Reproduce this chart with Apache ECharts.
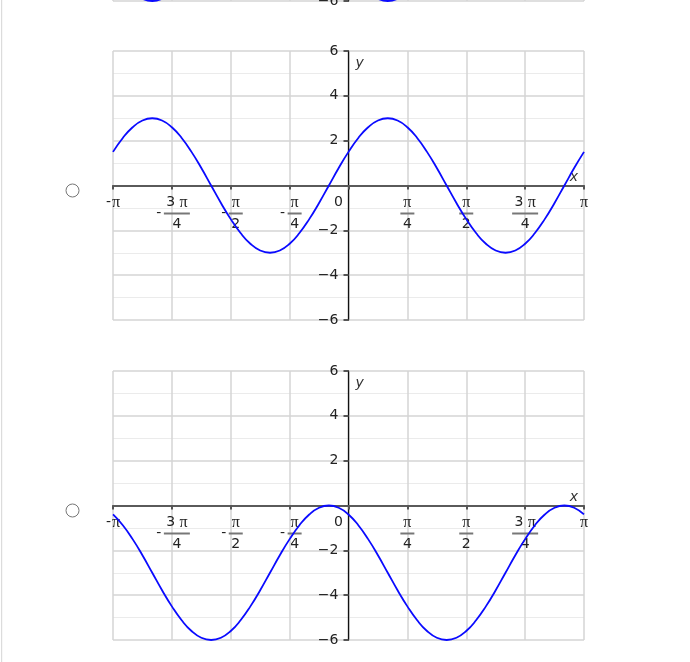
<!DOCTYPE html>
<html>
<head>
<meta charset="utf-8">
<script src="https://cdn.jsdelivr.net/npm/echarts@6/dist/echarts.min.js"></script>
<style>
  html, body { margin: 0; padding: 0; background: #fff; }
  #chart { width: 690px; height: 662px; }
</style>
</head>
<body>
<div id="chart"></div>
<script>
// x positions in steps of pi/24, from -pi to pi
var xSteps = [-24, -23, -22, -21, -20, -19, -18, -17, -16, -15, -14, -13, -12, -11, -10, -9, -8, -7, -6, -5, -4, -3, -2, -1, 0,
  1, 2, 3, 4, 5, 6, 7, 8, 9, 10, 11, 12, 13, 14, 15, 16, 17, 18, 19, 20, 21, 22, 23, 24];

// graph cut off at the top of the page
var curveTop = [-4.5, -5.12, -5.6, -5.9, -6, -5.9, -5.6, -5.12, -4.5, -3.78, -3, -2.22, -1.5, -0.88, -0.4, -0.1, 0,
  -0.1, -0.4, -0.88, -1.5, -2.22, -3, -3.78, -4.5, -5.12, -5.6, -5.9, -6, -5.9, -5.6, -5.12, -4.5, -3.78, -3, -2.22,
  -1.5, -0.88, -0.4, -0.1, 0, -0.1, -0.4, -0.88, -1.5, -2.22, -3, -3.78, -4.5];

// first full graph
var curveMid = [1.5, 2.12, 2.6, 2.9, 3, 2.9, 2.6, 2.12, 1.5, 0.78, 0, -0.78, -1.5, -2.12, -2.6, -2.9, -3,
  -2.9, -2.6, -2.12, -1.5, -0.78, 0, 0.78, 1.5, 2.12, 2.6, 2.9, 3, 2.9, 2.6, 2.12, 1.5, 0.78, 0, -0.78,
  -1.5, -2.12, -2.6, -2.9, -3, -2.9, -2.6, -2.12, -1.5, -0.78, 0, 0.78, 1.5];

// second full graph
var curveLow = [-0.4, -0.88, -1.5, -2.22, -3, -3.78, -4.5, -5.12, -5.6, -5.9, -6, -5.9, -5.6, -5.12, -4.5, -3.78, -3,
  -2.22, -1.5, -0.88, -0.4, -0.1, 0, -0.1, -0.4, -0.88, -1.5, -2.22, -3, -3.78, -4.5, -5.12, -5.6, -5.9, -6, -5.9,
  -5.6, -5.12, -4.5, -3.78, -3, -2.22, -1.5, -0.88, -0.4, -0.1, 0, -0.1, -0.4];

// x tick labels: numerator, denominator, negative sign
var xTickNum = ['π', '3π', 'π', 'π', '0', 'π', 'π', '3π', 'π'];
var xTickDen = ['', '4', '2', '4', '', '4', '2', '4', ''];
var xTickNeg = [true, true, true, true, false, false, false, false, false];

var curves = [curveTop, curveMid, curveLow];
var gridTops = [-268, 51, 371];
var gridW = 471, gridH = 269;

var dom = document.getElementById("chart");
var myChart = echarts.init(dom, null, {renderer: 'canvas'});
var option;

var txt = '#222';

function xLabel(v) {
    var i = Math.round(v / 6) + 4;
    var num = xTickNum[i], den = xTickDen[i], neg = xTickNeg[i];
    if (!den) {
        if (num === '0') return '{zero|0}';
        return (neg ? '{neg1|-}' : '') + '{pi|π}';
    }
    var top = num === '3π' ? '{d|3 }{pi|π}' : '{pi|π}';
    var bar = num === '3π' ? 'barW' : 'bar';
    if (neg) {
        return '{gap| }' + top + '\n{neg|-}{' + bar + '| }\n{gap| }{d|' + den + '}';
    }
    return top + '\n{' + bar + '| }\n{d|' + den + '}';
}

var richX = {
    d: {fontFamily: 'DejaVu Sans', fontSize: 14, color: txt, lineHeight: 16},
    pi: {fontFamily: 'Liberation Serif', fontSize: 16, color: txt, lineHeight: 16},
    gap: {width: 10, lineHeight: 16},
    neg: {width: 10, fontFamily: 'DejaVu Sans', fontSize: 14, color: txt, lineHeight: 6},
    neg1: {fontFamily: 'DejaVu Sans', fontSize: 14, color: txt, lineHeight: 16, padding: [0, 1, 0, 0]},
    bar: {width: 14, height: 2, lineHeight: 6, backgroundColor: '#777'},
    barW: {width: 26, height: 2, lineHeight: 6, backgroundColor: '#777'},
    zero: {fontFamily: 'DejaVu Sans', fontSize: 14, color: txt, lineHeight: 16, padding: [0, 20, 0, 0]}
};

var grids = [], xAxes = [], yAxes = [], series = [];
for (var g = 0; g < 3; g++) {
    grids.push({left: 113, width: gridW, top: gridTops[g], height: gridH, outerBoundsMode: 'none'});
    // axes are moved into the middle of the grid so they cross at (0, 0)
    xAxes.push({
        type: 'value', gridIndex: g, min: -24, max: 24, interval: 6,
        position: 'bottom', offset: -gridH / 2,
        name: 'x', nameLocation: 'end', nameGap: -10,
        nameTextStyle: {fontFamily: 'DejaVu Sans', fontStyle: 'italic', fontSize: 14, color: '#333',
            align: 'center', verticalAlign: 'bottom', padding: [0, 0, 1, 0]},
        axisLine: {show: true, onZero: false, lineStyle: {color: '#5a5a5a', width: 2}},
        axisTick: {show: true, length: 4, lineStyle: {color: '#555', width: 2}},
        axisLabel: {margin: 9, formatter: xLabel, rich: richX},
        splitLine: {show: true, lineStyle: {color: '#d4d4d4', width: 1.5}}
    });
    yAxes.push({
        type: 'value', gridIndex: g, min: -6, max: 6, interval: 2,
        position: 'left', offset: -gridW / 2,
        name: 'y', nameLocation: 'end', nameGap: -12,
        nameTextStyle: {fontFamily: 'DejaVu Sans', fontStyle: 'italic', fontSize: 14, color: '#333',
            align: 'left', verticalAlign: 'middle', padding: [0, 0, 0, 7]},
        axisLine: {show: true, onZero: false, lineStyle: {color: '#111', width: 1.3}},
        axisTick: {show: true, length: 5, lineStyle: {color: '#555', width: 2}},
        axisLabel: {
            margin: 10, fontFamily: 'DejaVu Sans', fontSize: 14, color: txt,
            formatter: function (v) {
                if (v === 0) return '';
                return v < 0 ? '\u2212' + (-v) : '' + v;
            }
        },
        splitLine: {show: true, lineStyle: {color: '#d4d4d4', width: 1.5}},
        minorTick: {show: false, splitNumber: 2},
        minorSplitLine: {show: true, lineStyle: {color: '#ebebeb', width: 1}}
    });
    series.push({
        type: 'line', xAxisIndex: g, yAxisIndex: g,
        showSymbol: false, smooth: true, silent: true,
        lineStyle: {color: '#0a0aff', width: 1.8},
        data: xSteps.map(function (x, i) { return [x, curves[g][i]]; })
    });
}

option = {
    animation: false,
    backgroundColor: '#fff',
    grid: grids,
    xAxis: xAxes,
    yAxis: yAxes,
    series: series,
    graphic: [
        {type: 'rect', shape: {x: 1, y: 0, width: 1.2, height: 662}, style: {fill: '#dcdcdc'}, silent: true},
        {type: 'circle', shape: {cx: 72.5, cy: 190.5, r: 6.5}, style: {fill: '#fff', stroke: '#777', lineWidth: 1}},
        {type: 'circle', shape: {cx: 72.5, cy: 510.5, r: 6.5}, style: {fill: '#fff', stroke: '#777', lineWidth: 1}}
    ]
};

if (option && typeof option === 'object') {
    myChart.setOption(option);
}
</script>
</body>
</html>
